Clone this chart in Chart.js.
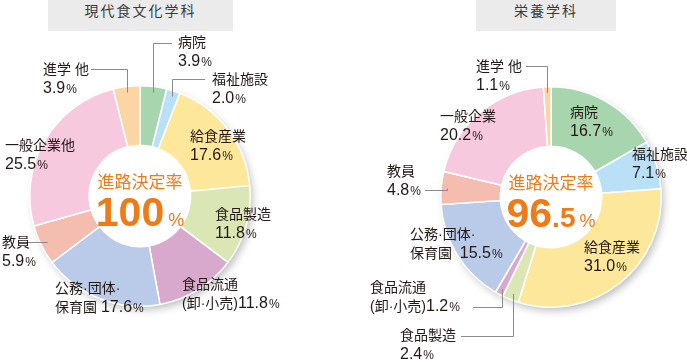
<!DOCTYPE html>
<html lang="ja">
<head>
<meta charset="utf-8">
<script src="https://cdn.jsdelivr.net/npm/chart.js@4"></script>
<style>
  html, body { margin: 0; padding: 0; background: #fff; }
  .wrap { position: relative; width: 687px; height: 360px; overflow: hidden; }
  .wrap canvas { position: absolute; left: 0; top: 0; }
  .title {
    position: absolute; top: 0; height: 31px; line-height: 31px;
    background: #ebebeb; color: #3a3a3a; text-align: center;
    font: 14px "Noto Sans CJK JP", sans-serif; letter-spacing: 2px;
  }
</style>
</head>
<body>
<div class="wrap">
  <div class="title" style="left:48px;width:185px;">現代食文化学科</div>
  <div class="title" style="left:476px;width:140px;">栄養学科</div>
  <canvas id="chart-left" width="687" height="360"></canvas>
  <canvas id="chart-right" width="687" height="360"></canvas>
</div>
<script>
// データ
const categories = ['病院', '福祉施設', '給食産業', '食品製造', '食品流通', '公務・団体・保育園', '教員', '一般企業', '進学 他'];
const valuesLeft = [3.9, 2.0, 17.6, 11.8, 11.8, 17.6, 5.9, 25.5, 3.9];
const valuesRight = [16.7, 7.1, 31.0, 2.4, 1.2, 15.5, 4.8, 20.2, 1.1];
const rateLeft = '100';
const rateRight = '96.5';
const colors = ['#a7d5ae', '#b9e0f6', '#fde79a', '#dae7b4', '#d9a9cd', '#b9cbe8', '#f5bdaf', '#f6c9de', '#fbd5a3'];

// ラベル表記 [1行目, 2行目の前置き]
const namesLeft = [['病院', ''], ['福祉施設', ''], ['給食産業', ''], ['食品製造', ''], ['食品流通', '(卸·小売)'],
  ['公務·団体·', '保育園 '], ['教員 ', ''], ['一般企業他', ''], ['進学 他', '']];
const namesRight = [['病院', ''], ['福祉施設', ''], ['給食産業', ''], ['食品製造', ''], ['食品流通', '(卸·小売)'],
  ['公務·団体·', '保育園  '], ['教員', ''], ['一般企業', ''], ['進学 他', '']];

const FONT = '"Liberation Sans", "Noto Sans CJK JP", sans-serif';
const INK = '#231815';
const ORANGE = '#ee7b17';

// 中心からのラベル位置
const posLeft = [[38, -153], [72, -116], [50, -59], [75, 19], [42, 89], [-85, 93], [-138, 47], [-135, -50], [-97, -126]];
const posRight = [[19, -84], [81, -42], [33, 51], [-151, 139], [-181, 91], [-141, 38], [-164, -25], [-111, -80], [-75, -130]];

const leadersLeft = [
  { i: 0, elbowY: -153, endX: 32 },
  { i: 1, elbowY: -117, endX: 65 },
  { i: 8, elbowY: -127, endX: -49 },
  { i: 6, elbowY: null, endX: -112 }
];
const leadersRight = [
  { i: 8, elbowY: -131, endX: -25 },
  { i: 6, elbowY: -7, endX: -126 },
  { i: 4, elbowY: 110, endX: -78 },
  { i: 3, elbowY: 139, endX: -90 }
];

function drawRich(ctx, text, x, y) {
  // 数字は大きめ、% は小さく
  const runs = text.match(/[0-9.]+|%|[^0-9.%]+/g) || [];
  let cx = x;
  runs.forEach(r => {
    let dy = 0, gap = 0;
    if (r === '%') { ctx.font = '12px ' + FONT; dy = 1; gap = 1; }
    else if (/^[0-9.]+$/.test(r)) ctx.font = '16px ' + FONT;
    else ctx.font = '14px ' + FONT;
    ctx.fillText(r, cx + gap, y + dy);
    cx += ctx.measureText(r).width + gap;
  });
}

function makePlugin(names, values, pos, leaders, rate) {
  return {
    id: 'ringLabels',
    beforeDatasetsDraw(chart) {
      const a = chart.getDatasetMeta(0).data[0];
      const ctx = chart.ctx;
      ctx.save();
      ctx.shadowColor = 'rgba(0,0,0,0.28)';
      ctx.shadowBlur = 9;
      ctx.shadowOffsetX = 3;
      ctx.shadowOffsetY = 4;
      ctx.fillStyle = '#fff';
      ctx.beginPath();
      ctx.arc(a.x, a.y, a.outerRadius - 1, 0, Math.PI * 2);
      ctx.fill();
      ctx.restore();
    },
    afterDatasetsDraw(chart) {
      const meta = chart.getDatasetMeta(0);
      const cx = meta.data[0].x, cy = meta.data[0].y, R = meta.data[0].outerRadius;
      const ctx = chart.ctx;
      ctx.save();

      // 引き出し線
      ctx.strokeStyle = '#8a8a8a';
      ctx.lineWidth = 1;
      leaders.forEach(l => {
        const a = meta.data[l.i];
        const mid = (a.startAngle + a.endAngle) / 2;
        const sx = Math.round(cx + Math.cos(mid) * (R - 6)) + 0.5;
        const sy = cy + Math.sin(mid) * (R - 6);
        const ey = (l.elbowY == null ? Math.round(sy) : Math.round(cy + l.elbowY)) + 0.5;
        ctx.beginPath();
        ctx.moveTo(sx, sy);
        ctx.lineTo(sx, ey);
        ctx.lineTo(cx + l.endX, ey);
        ctx.stroke();
      });

      // ラベル
      ctx.fillStyle = INK;
      ctx.textBaseline = 'middle';
      ctx.textAlign = 'left';
      names.forEach((n, i) => {
        const x = cx + pos[i][0], y = cy + pos[i][1];
        drawRich(ctx, n[0], x, y);
        drawRich(ctx, n[1] + values[i].toFixed(1) + '%', x, y + 19);
      });

      // 中央
      ctx.fillStyle = ORANGE;
      ctx.textAlign = 'center';
      ctx.font = '17px "Noto Sans CJK JP", sans-serif';
      ctx.fillText('進路決定率', cx, cy - 14);

      const [intPart, decPart] = rate.split('.');
      const bigFont = 'bold 41px ' + FONT;
      const midFont = 'bold 28px ' + FONT;
      const smallFont = '18px ' + FONT;
      ctx.font = bigFont; const w1 = ctx.measureText(intPart).width;
      ctx.font = midFont; const w2 = decPart ? ctx.measureText('.' + decPart).width : 0;
      ctx.font = smallFont; const w3 = ctx.measureText('%').width + 4;
      let x = cx - (w1 + w2 + w3) / 2;
      ctx.textAlign = 'left';
      ctx.textBaseline = 'alphabetic';
      const base = cy + 30;
      ctx.font = bigFont; ctx.fillText(intPart, x, base); x += w1;
      if (decPart) { ctx.font = midFont; ctx.fillText('.' + decPart, x, base); x += w2; }
      ctx.font = smallFont; ctx.fillText('%', x + 4, base);
      ctx.restore();
    }
  };
}

function ring(id, values, padding, plugin) {
  return new Chart(document.getElementById(id), {
    type: 'doughnut',
    data: {
      labels: categories,
      datasets: [{
        data: values,
        backgroundColor: colors,
        borderColor: '#ffffff',
        borderWidth: 1.5
      }]
    },
    options: {
      responsive: false,
      animation: false,
      cutout: '46%',
      layout: { padding: padding },
      plugins: {
        legend: { display: false },
        tooltip: { enabled: false }
      }
    },
    plugins: [plugin]
  });
}

ring('chart-left', valuesLeft, { left: 29, right: 436, top: 85, bottom: 53 },
  makePlugin(namesLeft, valuesLeft, posLeft, leadersLeft, rateLeft));
ring('chart-right', valuesRight, { left: 440, right: 25, top: 86, bottom: 52 },
  makePlugin(namesRight, valuesRight, posRight, leadersRight, rateRight));
</script>
</body>
</html>
